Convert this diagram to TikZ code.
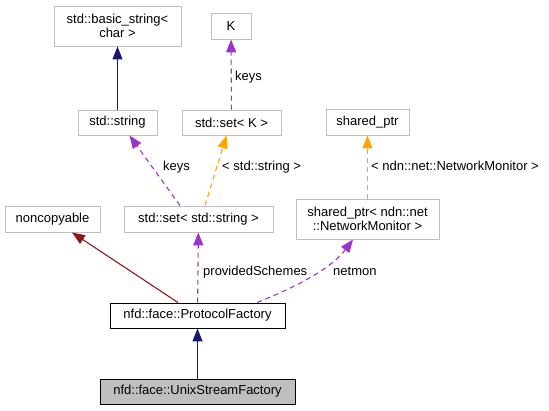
\documentclass[tikz,border=0pt]{standalone}
\usepackage{fontspec}
\setmainfont{Liberation Sans}
\usepackage{tikz}
\usetikzlibrary{arrows.meta,positioning,calc}

\definecolor{inhcol}{HTML}{191970}
\definecolor{privcol}{HTML}{8B1A1A}
\definecolor{usecol}{HTML}{9A32CD}
\definecolor{tplcol}{HTML}{FFA500}
\definecolor{boxcol}{HTML}{BFBFBF}

\tikzset{
  cls/.style={draw=boxcol, line width=0.9pt, fill=white, inner sep=0pt,
              align=center, font=\fontsize{13}{14.5}\selectfont},
  cur/.style={cls, draw=black, fill=boxcol},
  doc/.style={cls, draw=black},
  lbl/.style={inner sep=0pt, anchor=base west, font=\fontsize{13}{14.5}\selectfont},
  tip/.style={-{Triangle[length=13pt,width=10pt]}},
  inherit/.style={tip, draw=inhcol, line width=1.1pt},
  privinh/.style={tip, draw=privcol, line width=1.1pt},
  usage/.style={tip, draw=usecol, line width=1.1pt, dash pattern=on 5pt off 4pt},
  tmpl/.style={tip, draw=tplcol, line width=1.1pt, dash pattern=on 5pt off 4pt}
}

\begin{document}
\begin{tikzpicture}[x=1pt,y=-1pt]
  \useasboundingbox (0,0) rectangle (549,411);

  % Top row
  \node[cls, minimum width=127pt, minimum height=40pt] (bstr) at (117.5,26) {std::basic\_string<\\char >};
  \node[cls, minimum width=40pt, minimum height=26pt] (K) at (231,26) {K};

  % Second row
  \node[cls, minimum width=79pt, minimum height=25pt] (str) at (117.5,122.5) {std::string};
  \node[cls, minimum width=99pt, minimum height=25pt] (setK) at (231.5,122.5) {std::set< K >};
  \node[cls, minimum width=83pt, minimum height=26pt] (sptr) at (367.5,122) {shared\_ptr};

  % Third row
  \node[cls, minimum width=95pt, minimum height=26pt] (noncp) at (52.5,219) {noncopyable};
  \node[cls, minimum width=149pt, minimum height=26pt] (setstr) at (198.5,219) {std::set< std::string >};
  \node[cls, minimum width=143pt, minimum height=40pt] (sptrnm) at (367.5,219) {shared\_ptr< ndn::net\\::NetworkMonitor >};

  % Factories
  \node[doc, minimum width=175pt, minimum height=25pt] (pfac) at (197.5,315.5) {nfd::face::ProtocolFactory};
  \node[cur, minimum width=195pt, minimum height=25pt] (usfac) at (197.5,391.5) {nfd::face::UnixStreamFactory};

  % Edges
  \draw[inherit] (str) -- (bstr);
  \draw[usage] (setK) -- (K);
  \draw[usage] ([xshift=-18.5pt]setstr.north) -- ([xshift=12pt]str.south);
  \draw[tmpl] ([xshift=6.5pt]setstr.north) -- ([xshift=-5pt]setK.south);
  \draw[tmpl] (sptrnm) -- (sptr);
  \draw[privinh] ([xshift=-19.5pt]pfac.north) -- ([xshift=19.5pt]noncp.south);
  \draw[usage] (pfac) -- (setstr);
  \draw[usage] ([xshift=59.5pt]pfac.north) .. controls +(30,-12) and +(-24,32) .. ([xshift=-14.5pt]sptrnm.south);
  \draw[inherit] (usfac) -- (pfac);

  % Edge labels
  \node[lbl] (lkeysK) at (235,80.5) {keys};
  \node[lbl] (lkeys) at (163,170.5) {keys};
  \node[lbl] (lstr) at (222,170.5) {< std::string >};
  \node[lbl] (lnm) at (371,170.5) {< ndn::net::NetworkMonitor >};
  \node[lbl] (lprov) at (203,275.5) {providedSchemes};
  \node[lbl] (lnet) at (333,275.5) {netmon};
\end{tikzpicture}
\end{document}
